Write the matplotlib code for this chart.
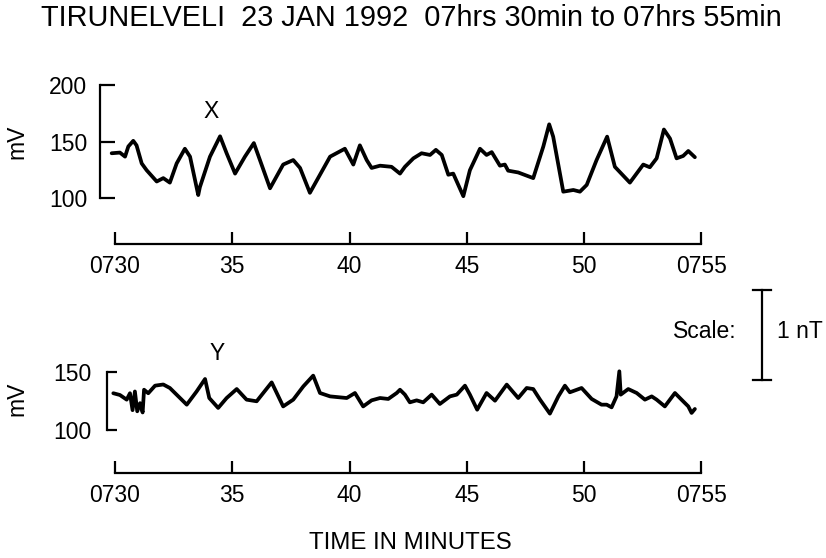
import matplotlib
matplotlib.use('Agg')
import matplotlib.pyplot as plt
from matplotlib.lines import Line2D

plt.rcParams['font.family'] = ['Liberation Sans', 'DejaVu Sans']

# time in minutes after 0730, values in mV
x_time = [-0.14, 0.21, 0.43, 0.57, 0.78, 0.92, 1.14, 1.35, 1.78, 2.06, 2.34, 2.63, 2.98, 3.20, 3.55, 3.62,
          4.05, 4.48, 4.76, 5.12, 5.54, 5.92, 6.18, 6.61, 7.17, 7.60, 7.89, 8.31, 8.74, 9.17, 9.80, 10.16,
          10.44, 10.73, 10.94, 11.30, 11.79, 12.15, 12.36, 12.72, 13.07, 13.43, 13.68, 13.93, 14.21, 14.42,
          14.85, 15.13, 15.56, 15.84, 16.06, 16.41, 16.62, 16.76, 17.19, 17.83, 18.26, 18.51, 18.68, 19.11,
          19.54, 19.82, 20.11, 20.53, 20.98, 21.31, 21.95, 22.52, 22.80, 23.09, 23.40, 23.66, 23.94, 24.22,
          24.44, 24.72]
x_mv = [140, 140.6, 137, 146, 151, 147, 131, 125, 115, 118, 114, 131, 144, 137, 103, 110,
        137, 155, 140, 122, 137, 149, 134, 109, 130, 134, 127, 105, 121, 137, 144, 130,
        147, 134, 127, 129, 128, 122, 128, 135.5, 140, 138.5, 143, 138.5, 121, 122,
        102, 125, 144, 138.5, 141, 129, 130, 124.6, 123, 118, 146, 165.6, 154.7, 106,
        107.5, 106, 112, 134, 154.7, 128, 114, 130, 127.6, 135.5, 161, 153, 135.5, 137.6,
        142, 136.5]

y_time = [-0.07, 0.21, 0.50, 0.64, 0.75, 0.85, 0.95, 1.07, 1.18, 1.24, 1.42, 1.71, 2.06, 2.34, 3.06, 3.48,
          3.84, 4.02, 4.40, 4.76, 5.19, 5.61, 6.04, 6.68, 7.17, 7.60, 8.03, 8.45, 8.74, 9.17, 9.88, 10.23,
          10.58, 10.94, 11.30, 11.65, 12.01, 12.15, 12.36, 12.57, 12.86, 13.14, 13.50, 13.85, 14.28, 14.57,
          14.92, 15.13, 15.44, 15.84, 16.20, 16.70, 17.19, 17.55, 17.83, 18.12, 18.54, 18.90, 19.18, 19.39,
          19.89, 20.32, 20.74, 20.96, 21.17, 21.38, 21.50, 21.56, 21.88, 22.24, 22.59, 22.88, 23.09, 23.44,
          23.87, 24.15, 24.44, 24.58, 24.72]
y_mv = [131.5, 130, 126, 131.5, 117, 133, 116, 123, 115, 134.5, 131.5, 138, 139, 136, 121.7, 133,
        143.7, 127.4, 118.9, 127.4, 135.1, 126, 124.6, 140.8, 120.2, 126, 137.4, 146.6, 131.7, 128.8, 127.4, 131.7,
        120.2, 125.4, 127.4, 126.6, 131.7, 134.5, 130.3, 123.7, 125.4, 123.7, 130.3, 122.3, 128.8, 130.3,
        138, 130.3, 117.4, 131.7, 125.1, 138.9, 127.4, 136, 135.1, 126, 114, 128.8, 138, 132.3,
        136, 126.6, 121.7, 121.7, 119.4, 128.8, 150.3, 130.3, 135.1, 131.7, 126, 128.8, 126, 120.2,
        131.7, 126, 120.2, 114.6, 118]

time_ticks = [0, 5, 10, 15, 20, 25]
time_labels = ['0730', '35', '40', '45', '50', '0755']

fig = plt.figure(figsize=(8.26, 5.58), dpi=100)

W, H = 826.0, 558.0


def setup_panel(ax, ylim, yticks, spine_x, ypad, tick_len):
    ax.set_xlim(-1, 26)
    ax.set_ylim(*ylim)
    for s in ['top', 'right']:
        ax.spines[s].set_visible(False)
    ax.spines['left'].set_position(('data', spine_x))
    ax.spines['left'].set_bounds(yticks[0], yticks[-1])
    ax.spines['bottom'].set_bounds(0, 25)
    for s in ['left', 'bottom']:
        ax.spines[s].set_linewidth(1.6)
        ax.spines[s].set_capstyle('projecting')
    ax.set_yticks(yticks)
    ax.set_xticks(time_ticks)
    ax.set_xticklabels(time_labels)
    ax.tick_params(axis='y', direction='in', length=tick_len, width=1.6, pad=ypad, labelsize=16.5)
    ax.tick_params(axis='x', direction='in', length=9, width=1.6, pad=8, labelsize=16.5)
    ax.patch.set_visible(False)


# X component panel
ax1 = fig.add_axes([91.5 / W, 1 - 244 / H, 633.4 / W, 164.2 / H])
ax1.plot(x_time, x_mv, color='black', lw=2.7, solid_joinstyle='round', solid_capstyle='round')
setup_panel(ax1, (59.7, 205), [100, 150, 200], -0.64, 9, 10.5)
ax1.text(4.1, 177, 'X', fontsize=16.5, ha='center', va='center')

# Y component panel
ax2 = fig.add_axes([91.5 / W, 1 - 473 / H, 633.4 / W, 113 / H])
ax2.plot(y_time, y_mv, color='black', lw=2.7, solid_joinstyle='round', solid_capstyle='round')
setup_panel(ax2, (63.1, 160), [100, 150], -0.35, 11, 7.5)
ax2.text(4.35, 166, 'Y', fontsize=16.5, ha='center', va='center')

fig.text(17 / W, 1 - 142 / H, 'mV', rotation=90, fontsize=16.5, ha='center', va='center')
fig.text(17 / W, 1 - 399 / H, 'mV', rotation=90, fontsize=16.5, ha='center', va='center')

fig.text(411 / W, 1 - 18 / H, 'TIRUNELVELI  23 JAN 1992  07hrs 30min to 07hrs 55min',
         fontsize=20.8, ha='center', va='center')
fig.text(410 / W, 1 - 543 / H, 'TIME IN MINUTES', fontsize=17.3, ha='center', va='center')

# scale bar
fig.add_artist(Line2D([762 / W, 762 / W], [1 - 290 / H, 1 - 380 / H], color='black', lw=1.6))
fig.add_artist(Line2D([753 / W, 771 / W], [1 - 290 / H, 1 - 290 / H], color='black', lw=1.6))
fig.add_artist(Line2D([753 / W, 771 / W], [1 - 380 / H, 1 - 380 / H], color='black', lw=1.6))
fig.text(705 / W, 1 - 332 / H, 'Scale:', fontsize=16.5, ha='center', va='center')
fig.text(800 / W, 1 - 332 / H, '1 nT', fontsize=16.5, ha='center', va='center')

plt.savefig('out.png', dpi=100)
